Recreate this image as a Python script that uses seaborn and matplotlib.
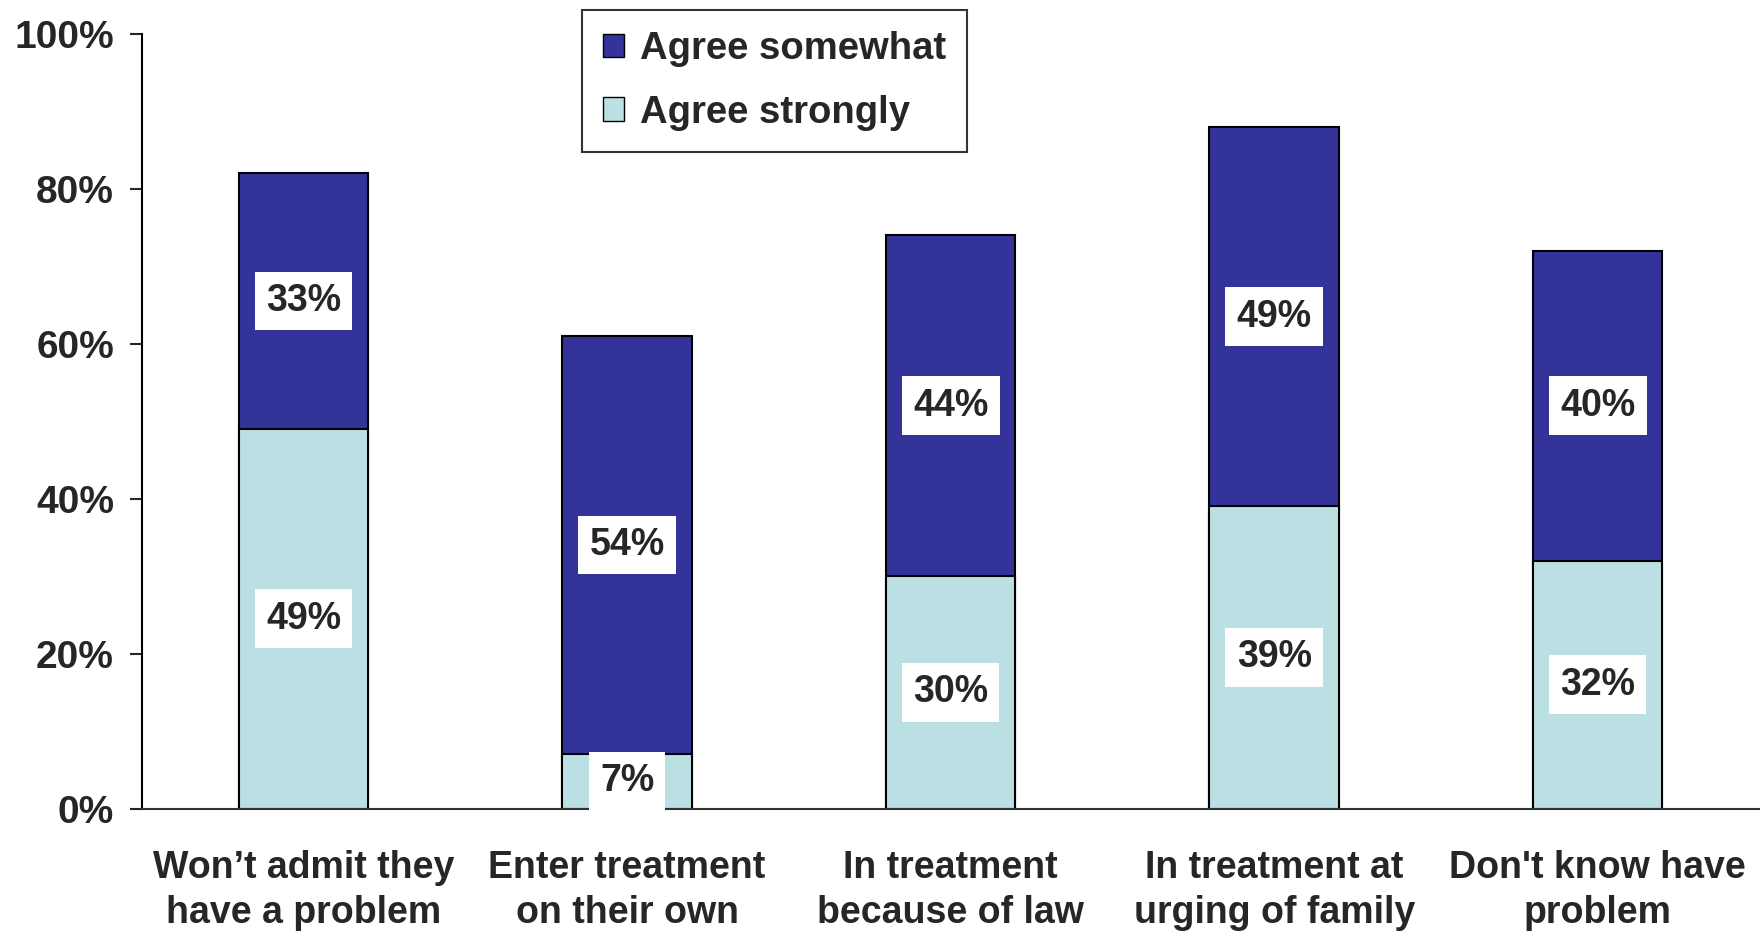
import seaborn as sns
import matplotlib.pyplot as plt
import pandas as pd

categories = ["Won\u2019t admit they\nhave a problem", "Enter treatment\non their own",
              "In treatment\nbecause of law", "In treatment at\nurging of family",
              "Don't know have\nproblem"]
agree_strongly = [49, 7, 30, 39, 32]
agree_somewhat = [33, 54, 44, 49, 40]
yticks = [0, 20, 40, 60, 80, 100]

dark = "#333399"
light = "#BBE0E3"

sns.set_style("white")
plt.rcParams['font.family'] = ['Liberation Sans', 'DejaVu Sans']
plt.rcParams['font.weight'] = 'bold'

df = pd.DataFrame({
    'cat': categories,
    'strong': agree_strongly,
    'somewhat': agree_somewhat,
})
df['total'] = df['strong'] + df['somewhat']

fig = plt.figure(figsize=(17.63, 9.33), dpi=100)
ax = fig.add_axes([0.0804, 0.1334, 0.9176, 0.8305])

sns.barplot(data=df, x='cat', y='total', color=dark, width=0.4,
            edgecolor='black', linewidth=1.5, saturation=1, ax=ax)
sns.barplot(data=df, x='cat', y='strong', color=light, width=0.4,
            edgecolor='black', linewidth=1.5, saturation=1, ax=ax)

box = dict(facecolor='white', edgecolor='none', pad=8)
for i, row in df.iterrows():
    ax.text(i, row['strong'] / 2, f"{row['strong']}%", ha='center', va='center',
            fontsize=27, fontweight='bold', bbox=box)
    ax.text(i, row['strong'] + row['somewhat'] / 2, f"{row['somewhat']}%",
            ha='center', va='center', fontsize=27, fontweight='bold', bbox=box)

ax.set_xlim(-0.5, 4.5)
ax.set_ylim(0, 100)
ax.set_yticks(yticks)
ax.set_yticklabels([f"{v}%" for v in yticks], fontsize=28, fontweight='bold')
ax.set_xticks(range(len(categories)))
ax.set_xticklabels(categories, fontsize=27, fontweight='bold', linespacing=1.33)
ax.set_xlabel('')
ax.set_ylabel('')
ax.tick_params(axis='y', length=9, width=1.5, direction='out', pad=11, left=True)
ax.tick_params(axis='x', length=0, pad=30)
sns.despine(ax=ax)
ax.spines['left'].set_linewidth(1.5)
ax.spines['bottom'].set_linewidth(1.5)
ax.spines['left'].set_color('black')
ax.spines['bottom'].set_color('#333333')

handles = [plt.Rectangle((0, 0), 1, 1, facecolor=dark, edgecolor='black', linewidth=1),
           plt.Rectangle((0, 0), 1, 1, facecolor=light, edgecolor='black', linewidth=1)]
leg = fig.legend(handles, ["Agree somewhat", "Agree strongly"],
                 loc='upper left', bbox_to_anchor=(582 / 1763, 1 - 10 / 933),
                 prop={'size': 27.5, 'weight': 'bold'}, frameon=True, fancybox=False,
                 edgecolor='black', handlelength=0.56, handleheight=0.56,
                 handletextpad=0.4, labelspacing=0.72, borderpad=0.55,
                 borderaxespad=0)
leg.get_frame().set_linewidth(1.5)

fig.savefig('out.png', dpi=100)
